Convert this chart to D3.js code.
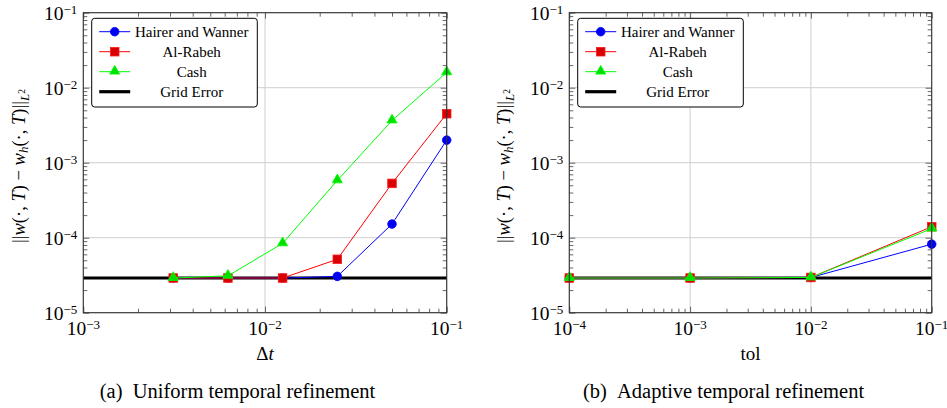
<!DOCTYPE html>
<html>
<head>
<meta charset="utf-8">
<script src="https://cdn.jsdelivr.net/npm/d3@7/dist/d3.min.js"></script>
</head>
<body style="margin:0; background:#fff">
<svg id="chart" width="947" height="408"></svg>
<script>
// ---- data ----
var dtValues       = [0.003125, 0.00625, 0.0125, 0.025, 0.05, 0.1];
var hairerUniform  = [2.9e-5, 2.9e-5, 2.9e-5, 3.05e-5, 1.52e-4, 2.0e-3];
var alRabehUniform = [2.9e-5, 2.9e-5, 2.9e-5, 5.15e-5, 5.3e-4, 4.5e-3];
var cashUniform    = [2.9e-5, 3.1e-5, 8.4e-5, 5.8e-4, 3.65e-3, 1.6e-2];

var tolValues       = [1e-4, 1e-3, 1e-2, 1e-1];
var hairerAdaptive  = [2.9e-5, 2.9e-5, 2.95e-5, 8.2e-5];
var alRabehAdaptive = [2.9e-5, 2.9e-5, 2.95e-5, 1.4e-4];
var cashAdaptive    = [2.9e-5, 2.9e-5, 2.95e-5, 1.32e-4];

var gridError = 2.9e-5;

var seriesNames = ["Hairer and Wanner", "Al-Rabeh", "Cash"];
var xTickExps = { a: [-3, -2, -1], b: [-4, -3, -2, -1] };
var yTickExps = [-5, -4, -3, -2, -1];

var FONT = "'Nimbus Roman', 'Liberation Serif', serif";
var svg = d3.select("#chart");

var styles = [
  { line: "#0000ff", fill: "#0000f0", stroke: "#0000ff", shape: "circle" },
  { line: "#ff0000", fill: "#d80000", stroke: "#ff2020", shape: "square" },
  { line: "#00ff00", fill: "#00e000", stroke: "#00ff00", shape: "triangle" }
];

function addText(g) {
  return g.append("text").style("font-family", FONT).attr("fill", "#000");
}

function expLabel(sel, e) {
  sel.append("tspan").text("10");
  sel.append("tspan").attr("dy", -6.5).attr("font-size", 13).text("\u2212" + Math.abs(e));
}

function drawPanel(opt) {
  var top = 12.7, bottom = 312.7;
  var x = d3.scaleLog().domain(opt.xDomain).range([opt.left, opt.right]);
  var y = d3.scaleLog().domain([1e-5, 1e-1]).range([bottom, top]);
  var g = svg.append("g");

  // grid
  var xMajor = opt.xExps.map(function(e) { return Math.pow(10, e); });
  var yMajor = yTickExps.map(function(e) { return Math.pow(10, e); });
  g.selectAll(".gx").data(xMajor).enter().append("line")
    .attr("x1", d => x(d)).attr("x2", d => x(d)).attr("y1", top).attr("y2", bottom)
    .attr("stroke", "#cfcfcf").attr("stroke-width", 1);
  g.selectAll(".gy").data(yMajor).enter().append("line")
    .attr("y1", d => y(d)).attr("y2", d => y(d)).attr("x1", opt.left).attr("x2", opt.right)
    .attr("stroke", "#cfcfcf").attr("stroke-width", 1);

  // minor ticks via d3 axes, pointing inside on all four sides
  var xMinor = [], yMinor = [];
  xMajor.slice(0, -1).forEach(function(d) { for (var k = 2; k < 10; k++) xMinor.push(d * k); });
  yMajor.slice(0, -1).forEach(function(d) { for (var k = 2; k < 10; k++) yMinor.push(d * k); });

  function tickAxis(axis, vals, size, transform) {
    var a = g.append("g").attr("transform", transform)
      .call(axis.tickValues(vals).tickSize(size).tickFormat(""));
    a.select(".domain").remove();
    a.selectAll("line").attr("stroke", "#555").attr("stroke-width", 0.9);
  }
  tickAxis(d3.axisBottom(x), xMinor, -4, "translate(0," + bottom + ")");
  tickAxis(d3.axisTop(x), xMinor, -4, "translate(0," + top + ")");
  tickAxis(d3.axisLeft(y), yMinor, -4, "translate(" + opt.left + ",0)");
  tickAxis(d3.axisRight(y), yMinor, -4, "translate(" + opt.right + ",0)");
  tickAxis(d3.axisBottom(x), xMajor, -6, "translate(0," + bottom + ")");
  tickAxis(d3.axisTop(x), xMajor, -6, "translate(0," + top + ")");
  tickAxis(d3.axisLeft(y), yMajor, -6, "translate(" + opt.left + ",0)");
  tickAxis(d3.axisRight(y), yMajor, -6, "translate(" + opt.right + ",0)");

  // grid error line
  g.append("line")
    .attr("x1", opt.left).attr("x2", opt.right)
    .attr("y1", y(gridError)).attr("y2", y(gridError))
    .attr("stroke", "#000").attr("stroke-width", 3.2);

  // series
  var line = d3.line().x(d => x(d[0])).y(d => y(d[1]));
  opt.series.forEach(function(vals, i) {
    var pts = opt.xVals.map(function(v, j) { return [v, vals[j]]; });
    var st = styles[i];
    g.append("path").datum(pts).attr("d", line)
      .attr("fill", "none").attr("stroke", st.line).attr("stroke-width", 1);
    pts.forEach(function(p) { drawMarker(g, st, x(p[0]), y(p[1])); });
  });

  // frame
  g.append("rect").attr("x", opt.left).attr("y", top)
    .attr("width", opt.right - opt.left).attr("height", bottom - top)
    .attr("fill", "none").attr("stroke", "#333").attr("stroke-width", 1.1);

  // tick labels
  xMajor.forEach(function(d, i) {
    var t = addText(g).attr("x", x(d)).attr("y", 335)
      .attr("text-anchor", "middle").attr("font-size", 19.5);
    expLabel(t, opt.xExps[i]);
  });
  yMajor.forEach(function(d, i) {
    var t = addText(g).attr("x", opt.left - 6).attr("y", y(d) + 7.5)
      .attr("text-anchor", "end").attr("font-size", 19.5);
    expLabel(t, yTickExps[i]);
  });

  // axis titles
  var xt = addText(g).attr("x", (opt.left + opt.right) / 2).attr("y", 360)
    .attr("text-anchor", "middle").attr("font-size", 19);
  if (opt.xTitle === "dt") {
    xt.append("tspan").text("\u0394");
    xt.append("tspan").attr("font-style", "italic").text("t");
  } else {
    xt.text(opt.xTitle);
  }

  var yt = addText(g)
    .attr("transform", "translate(" + opt.yLabelX + ",166) rotate(-90)")
    .attr("text-anchor", "middle").attr("font-size", 18.5);
  yt.append("tspan").text("||");
  yt.append("tspan").attr("font-style", "italic").text("w");
  yt.append("tspan").text("(\u00b7, ");
  yt.append("tspan").attr("font-style", "italic").text("T");
  yt.append("tspan").text(") \u2212 ");
  yt.append("tspan").attr("font-style", "italic").text("w");
  yt.append("tspan").attr("font-style", "italic").attr("font-size", 13).attr("dy", 3).text("h");
  yt.append("tspan").attr("dy", -3).text("(\u00b7, ");
  yt.append("tspan").attr("font-style", "italic").text("T");
  yt.append("tspan").text(")||");
  yt.append("tspan").attr("font-style", "italic").attr("font-size", 13).attr("dy", 4).text("L");
  yt.append("tspan").attr("font-size", 9.5).attr("dy", -4).text("2");

  // caption
  addText(g).attr("x", opt.captionX).attr("y", 398)
    .attr("text-anchor", "middle").attr("font-size", 20.5)
    .text(opt.caption);

  // legend
  var lx = opt.left + 8.4, ly = 18.3;
  var lg = g.append("g");
  lg.append("rect").attr("x", lx).attr("y", ly).attr("width", 165.6).attr("height", 88.7)
    .attr("rx", 3).attr("fill", "#fff").attr("stroke", "#000").attr("stroke-width", 1);
  var names = seriesNames.concat(["Grid Error"]);
  names.forEach(function(name, i) {
    var ry = ly + 13.4 + i * 20;
    if (i < 3) {
      lg.append("line").attr("x1", lx + 7.5).attr("x2", lx + 38.5).attr("y1", ry).attr("y2", ry)
        .attr("stroke", styles[i].line).attr("stroke-width", 1);
      drawMarker(lg, styles[i], lx + 23, ry);
    } else {
      lg.append("line").attr("x1", lx + 7.5).attr("x2", lx + 38.5).attr("y1", ry).attr("y2", ry)
        .attr("stroke", "#000").attr("stroke-width", 3.2);
    }
    addText(lg).attr("x", lx + 100).attr("y", ry + 5)
      .attr("text-anchor", "middle").attr("font-size", 15).text(name);
  });
}

function drawMarker(g, st, cx, cy) {
  if (st.shape === "circle") {
    g.append("circle").attr("cx", cx).attr("cy", cy).attr("r", 4.3)
      .attr("fill", st.fill).attr("stroke", st.stroke).attr("stroke-width", 0.8);
  } else if (st.shape === "square") {
    g.append("rect").attr("x", cx - 4.3).attr("y", cy - 4.3).attr("width", 8.6).attr("height", 8.6)
      .attr("fill", st.fill).attr("stroke", st.stroke).attr("stroke-width", 0.8);
  } else {
    var s = d3.symbol().type(d3.symbolTriangle).size(44);
    g.append("path").attr("d", s()).attr("transform", "translate(" + cx + "," + (cy - 0.5) + ")")
      .attr("fill", st.fill).attr("stroke", st.stroke).attr("stroke-width", 0.8);
  }
}

drawPanel({
  left: 83.3, right: 446.7, xDomain: [1e-3, 1e-1], xExps: xTickExps.a,
  xVals: dtValues, series: [hairerUniform, alRabehUniform, cashUniform],
  xTitle: "dt", yLabelX: 25, captionX: 237.5,
  caption: "(a)\u2002Uniform temporal refinement"
});
drawPanel({
  left: 569.3, right: 931.7, xDomain: [1e-4, 1e-1], xExps: xTickExps.b,
  xVals: tolValues, series: [hairerAdaptive, alRabehAdaptive, cashAdaptive],
  xTitle: "tol", yLabelX: 510, captionX: 723.5,
  caption: "(b)\u2002Adaptive temporal refinement"
});
</script>
</body>
</html>
